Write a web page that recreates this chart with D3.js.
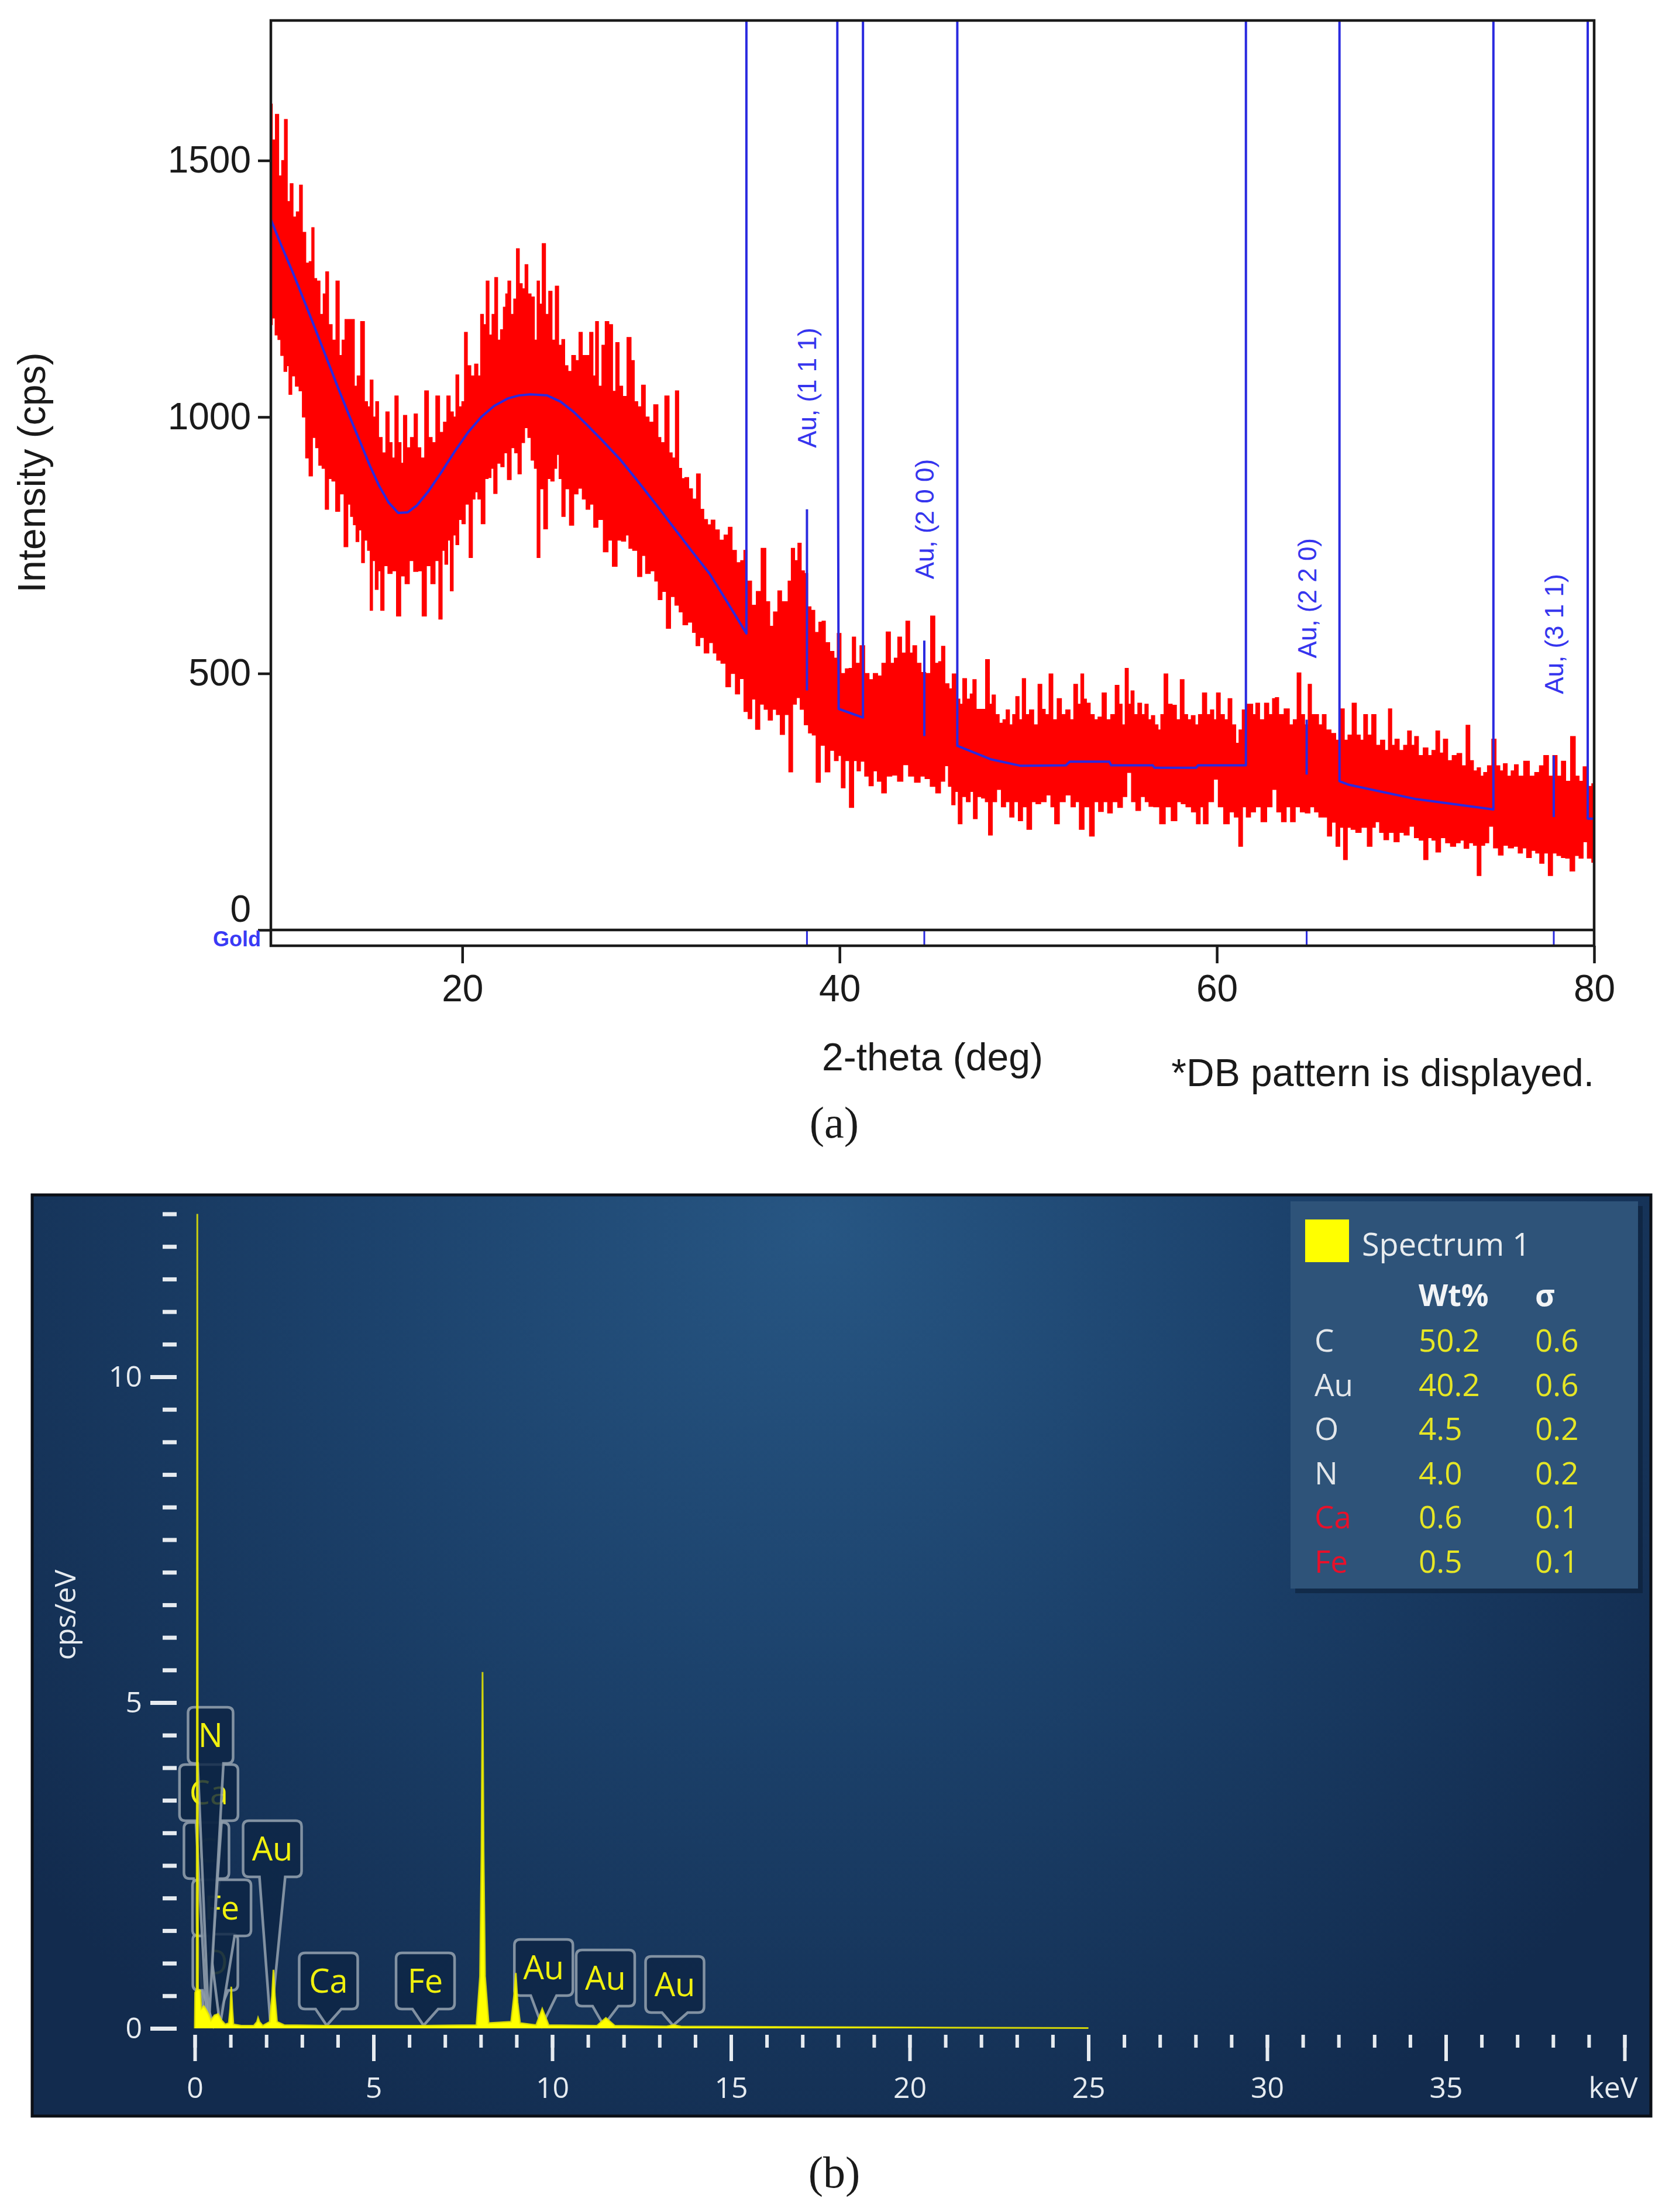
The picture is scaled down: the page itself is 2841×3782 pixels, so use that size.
<!DOCTYPE html>
<html lang="en">
<head>
<meta charset="UTF-8">
<title>XRD and EDS of gold sample</title>
<style>
  * { margin:0; padding:0; box-sizing:border-box; }
  body { background:#fff; width:2841px; height:3782px; overflow:hidden; }
  svg { display:block; }
</style>
<script src="https://unpkg.com/d3@7.6.1/dist/d3.min.js"></script>
</head>
<body>
<div id="chart"></div>
<script>
// ---------- (a) XRD ----------
// upper and lower edge of the noisy red trace, [2-theta, cps]
const redUpper = [
  [9.85,1610],[10.0,1540],[10.18,1590],[10.35,1470],[10.5,1500],[10.64,1580],[10.8,1420],[10.95,1455],[11.1,1390],[11.3,1400],
  [11.44,1452],[11.6,1360],[11.8,1300],[11.96,1303],[12.08,1369],[12.2,1270],[12.36,1265],[12.55,1200],[12.7,1240],[12.82,1283],
  [13.0,1180],[13.2,1150],[13.4,1265],[13.55,1120],[13.7,1150],[13.86,1190],[14.0,1190],[14.2,1190],[14.35,1060],[14.5,1080],
  [14.72,1186],[14.9,1030],[15.05,1020],[15.18,1072],[15.35,1000],[15.47,1030],[15.65,960],[15.85,930],[16.04,1010],[16.2,950],
  [16.35,920],[16.5,1041],[16.7,950],[16.8,910],[16.96,1003],[17.15,940],[17.35,960],[17.54,1006],[17.7,940],[17.9,920],
  [18.11,1051],[18.3,960],[18.5,950],[18.69,1041],[18.9,970],[19.1,990],[19.26,1041],[19.45,1010],[19.6,1000],[19.72,1082],
  [19.9,1020],[20.05,1030],[20.18,1165],[20.35,1100],[20.55,1080],[20.75,1103],[20.9,1080],[21.04,1200],[21.2,1180],[21.33,1265],
  [21.5,1160],[21.65,1200],[21.79,1272],[21.95,1150],[22.1,1170],[22.25,1214],[22.35,1240],[22.48,1265],[22.65,1200],[22.8,1230],
  [22.94,1328],[23.1,1260],[23.25,1250],[23.4,1297],[23.55,1240],[23.74,1234],[23.9,1150],[24.03,1265],[24.15,1220],[24.32,1338],
  [24.5,1200],[24.66,1245],[24.85,1150],[25.01,1255],[25.2,1140],[25.35,1151],[25.5,1100],[25.7,1089],[25.9,1120],[26.1,1110],
  [26.27,1165],[26.45,1120],[26.65,1120],[26.85,1165],[27.0,1080],[27.13,1186],[27.3,1060],[27.5,1140],[27.65,1186],[27.88,1180],
  [28.05,1050],[28.22,1145],[28.4,1060],[28.6,1040],[28.86,1155],[29.03,1110],[29.2,1030],[29.4,1020],[29.6,1062],[29.8,1000],
  [30.0,990],[30.29,1024],[30.45,960],[30.6,950],[30.87,1041],[31.05,930],[31.2,920],[31.39,1051],[31.55,900],[31.7,880],
  [31.9,882],[32.1,860],[32.3,840],[32.53,889],[32.7,820],[32.9,800],[33.1,790],[33.28,799],[33.5,780],[33.75,760],
  [34.0,770],[34.2,785],[34.4,740],[34.66,716],[34.85,720],[35.0,740],[35.2,680],[35.47,633],[35.7,660],[35.98,744],
  [36.2,640],[36.39,592],[36.6,620],[36.85,661],[37.0,640],[37.19,640],[37.35,680],[37.53,744],[37.7,720],[37.88,754],
  [38.05,700],[38.22,695],[38.4,630],[38.57,623],[38.8,580],[39.0,600],[39.14,602],[39.35,560],[39.6,543],[39.8,530],
  [39.95,578],[40.2,500],[40.41,509],[40.6,510],[40.75,571],[40.95,520],[41.21,554],[41.45,500],[41.67,488],[41.9,500],
  [42.13,495],[42.35,520],[42.59,581],[42.8,520],[43.0,530],[43.17,571],[43.4,540],[43.63,602],[43.8,540],[43.97,554],
  [44.2,520],[44.43,502],[44.7,500],[44.95,612],[45.15,520],[45.35,523],[45.46,553],[45.7,480],[45.9,470],[46.04,499],
  [46.3,450],[46.45,440],[46.61,490],[46.85,450],[47.0,460],[47.13,488],[47.35,430],[47.6,430],[47.88,527],[48.0,440],
  [48.17,458],[48.35,420],[48.57,403],[48.75,410],[48.91,429],[49.1,400],[49.25,420],[49.43,455],[49.6,410],[49.77,490],
  [49.95,420],[50.18,429],[50.4,400],[50.64,479],[50.8,430],[51.0,420],[51.21,499],[51.4,410],[51.67,451],[51.85,420],
  [52.13,429],[52.3,410],[52.53,479],[52.7,440],[52.88,499],[53.0,450],[53.17,442],[53.4,420],[53.6,410],[53.8,415],
  [54.03,462],[54.25,410],[54.5,420],[54.72,477],[54.9,440],[55.05,400],[55.23,510],[55.38,440],[55.52,466],[55.7,420],
  [55.92,442],[56.1,420],[56.27,440],[56.45,410],[56.61,418],[56.8,400],[56.96,390],[57.1,420],[57.3,499],[57.5,440],
  [57.76,438],[57.95,410],[58.17,488],[58.35,420],[58.55,410],[58.74,418],[58.95,400],[59.1,420],[59.37,462],[59.55,420],
  [59.77,429],[59.9,410],[60.06,462],[60.3,420],[60.5,410],[60.69,451],[60.9,400],[61.1,364],[61.25,390],[61.44,429],
  [61.6,440],[61.8,440],[62.0,420],[62.13,442],[62.4,410],[62.65,442],[62.85,420],[63.05,451],[63.15,453],[63.4,420],
  [63.73,431],[63.95,400],[64.15,410],[64.36,501],[64.55,420],[64.75,400],[64.93,479],[65.1,420],[65.28,420],[65.5,400],
  [65.68,420],[65.9,390],[66.2,383],[66.4,370],[66.66,431],[66.85,370],[67.05,380],[67.29,442],[67.5,380],[67.7,370],
  [67.87,420],[68.1,380],[68.32,420],[68.55,360],[68.8,370],[69.0,350],[69.19,431],[69.35,360],[69.53,372],[69.8,350],
  [70.0,360],[70.22,388],[70.4,360],[70.57,377],[70.8,340],[71.08,355],[71.3,340],[71.5,350],[71.72,388],[71.9,345],
  [72.12,372],[72.35,330],[72.6,340],[72.86,344],[73.1,320],[73.32,399],[73.5,330],[73.7,310],[73.9,316],[74.05,300],
  [74.24,307],[74.45,320],[74.7,372],[74.9,320],[75.1,310],[75.28,324],[75.5,300],[75.7,310],[75.85,322],[76.1,300],
  [76.43,329],[76.7,300],[77.0,307],[77.2,320],[77.46,340],[77.7,300],[77.92,340],[78.15,300],[78.38,329],[78.6,290],
  [78.9,377],[79.1,300],[79.3,290],[79.53,318],[79.75,280],[80.0,285]
];
const redLower = [
  [9.85,1180],[10.0,1193],[10.15,1160],[10.3,1151],[10.45,1120],[10.64,1089],[10.75,1100],[10.87,1044],[11.05,1080],[11.25,1060],
  [11.44,1051],[11.6,1000],[11.79,920],[11.96,885],[12.15,960],[12.3,940],[12.48,906],[12.65,900],[12.82,820],[13.0,880],
  [13.17,875],[13.4,816],[13.6,850],[13.86,747],[14.0,830],[14.15,806],[14.3,790],[14.43,757],[14.6,780],[14.72,716],
  [14.9,760],[15.05,740],[15.18,623],[15.3,720],[15.47,664],[15.6,700],[15.75,623],[15.95,710],[16.16,695],[16.4,700],
  [16.62,612],[16.85,690],[17.08,675],[17.3,720],[17.54,699],[17.75,700],[17.99,612],[18.2,710],[18.46,675],[18.65,720],
  [18.86,606],[19.0,740],[19.15,713],[19.3,760],[19.43,661],[19.6,770],[19.72,751],[19.9,800],[20.06,792],[20.25,830],
  [20.47,726],[20.6,840],[20.75,854],[20.9,840],[21.1,792],[21.3,880],[21.44,882],[21.6,900],[21.73,851],[21.95,910],
  [22.13,903],[22.3,930],[22.48,878],[22.7,940],[22.85,930],[23.05,889],[23.2,950],[23.4,979],[23.55,960],[23.74,916],
  [23.9,900],[24.03,726],[24.2,860],[24.43,782],[24.6,880],[24.78,875],[24.95,900],[25.06,927],[25.2,880],[25.35,806],
  [25.55,860],[25.81,789],[26.0,850],[26.27,861],[26.45,840],[26.67,820],[26.85,830],[27.08,785],[27.3,800],[27.65,737],
  [27.8,760],[28.11,709],[28.3,760],[28.57,758],[28.75,770],[28.91,744],[29.15,740],[29.43,689],[29.6,730],[29.83,695],
  [30.1,700],[30.3,680],[30.47,644],[30.7,660],[30.93,588],[31.15,650],[31.39,633],[31.6,620],[31.79,595],[32.1,600],
  [32.3,580],[32.48,554],[32.7,570],[32.94,540],[33.2,560],[33.4,540],[33.57,526],[33.85,520],[34.09,474],[34.35,500],
  [34.6,460],[34.8,490],[35.06,426],[35.24,412],[35.45,450],[35.64,391],[35.9,440],[36.1,430],[36.33,409],[36.55,430],
  [36.75,420],[36.96,381],[37.2,420],[37.42,308],[37.6,440],[37.82,453],[38.0,430],[38.25,400],[38.45,384],[38.65,380],
  [38.86,288],[39.1,360],[39.37,308],[39.6,350],[39.85,330],[40.0,340],[40.18,277],[40.4,330],[40.64,239],[40.85,330],
  [41.0,310],[41.21,329],[41.45,300],[41.67,281],[41.9,310],[42.1,290],[42.36,267],[42.6,300],[42.94,302],[43.2,290],
  [43.51,322],[43.8,300],[44.14,288],[44.4,300],[44.66,295],[44.95,280],[45.24,267],[45.46,290],[45.69,320],[45.85,280],
  [46.04,244],[46.2,270],[46.38,207],[46.6,260],[46.84,250],[47.0,270],[47.19,217],[47.4,260],[47.65,257],[47.8,250],
  [47.99,185],[48.2,250],[48.45,274],[48.7,240],[48.9,250],[49.14,220],[49.35,250],[49.6,213],[49.8,240],[50.06,196],
  [50.3,250],[50.52,246],[50.8,250],[51.1,263],[51.3,240],[51.5,207],[51.8,250],[52.13,263],[52.4,240],[52.6,250],
  [52.82,196],[53.1,240],[53.4,183],[53.6,250],[53.86,231],[54.1,250],[54.32,228],[54.6,250],[54.89,239],[55.1,260],
  [55.35,307],[55.6,250],[55.81,233],[56.1,260],[56.3,250],[56.5,241],[56.8,240],[57.13,207],[57.4,240],[57.76,213],
  [58.0,250],[58.22,246],[58.5,240],[58.8,230],[59.03,207],[59.2,240],[59.37,207],[59.7,250],[59.95,294],[60.2,240],
  [60.52,207],[60.8,230],[61.05,220],[61.27,163],[61.45,240],[61.67,220],[61.9,230],[62.2,240],[62.48,211],[62.8,240],
  [63.05,274],[63.3,230],[63.55,211],[63.8,240],[64.01,211],[64.3,240],[64.55,230],[64.82,228],[65.05,240],[65.3,230],
  [65.51,220],[65.75,220],[65.97,183],[66.2,210],[66.43,163],[66.6,200],[66.83,137],[67.0,200],[67.23,196],[67.5,190],
  [67.8,200],[68.15,163],[68.3,200],[68.5,211],[68.75,190],[68.96,176],[69.25,190],[69.53,172],[69.8,190],[70.05,185],
  [70.34,202],[70.6,180],[70.85,175],[71.08,137],[71.3,180],[71.5,175],[71.72,152],[72.0,180],[72.25,170],[72.52,163],
  [72.8,170],[73.0,175],[73.21,159],[73.5,170],[73.7,165],[73.9,106],[74.1,165],[74.3,170],[74.53,202],[74.8,160],
  [75.05,146],[75.3,165],[75.6,160],[75.85,163],[76.1,150],[76.3,160],[76.54,141],[76.8,155],[77.0,150],[77.23,130],
  [77.45,150],[77.69,106],[77.9,150],[78.15,145],[78.38,141],[78.6,140],[78.84,115],[79.1,145],[79.3,140],[79.53,172],
  [79.75,140],[80.0,132]
];
// fitted background (blue); 1800 = runs off the top of the plot
const bgX = [9.85,10.4,11.0,11.6,12.2,12.8,13.4,14.0,14.6,15.1,15.6,16.1,16.6,17.1,17.6,18.2,18.9,19.6,20.3,21.0,
             21.7,22.4,23.0,23.6,24.5,25.2,25.9,26.6,27.4,28.35,29.3,30.3,31.3,32.2,33.1,34.0,35.06,35.06,
             39.88,39.88,39.95,41.24,41.24,46.24,46.24,47.99,49.6,52.0,52.2,54.3,54.4,56.6,
             56.7,58.9,59.0,61.54,61.54,66.5,66.5,67.0,70.57,74.66,74.66,79.66,79.66,80.0];
const bgY = [1385,1335,1283,1228,1172,1115,1058,1003,950,905,865,833,813,814,828,855,893,933,970,1000,
             1022,1036,1042,1044,1042,1030,1010,985,955,918,875,828,780,737,695,642,578,1800,
             1800,1434,431,414,1800,1800,359,333,320,321,328,328,321,321,
             316,316,321,321,1800,1800,290,283,255,235,1800,1800,217,217];
// Au reference pattern (DB sticks)
const stickX = [38.27, 44.49, 64.76, 77.86];
const stickBase = [467, 378, 303, 220];
const stickTop = [820, 564, 410, 340];
const stickHkl = ["(1 1 1)", "(2 0 0)", "(2 2 0)", "(3 1 1)"];
const xrdYTicks = [0, 500, 1000, 1500];
const xrdXTicks = [20, 40, 60, 80];

// ---------- (b) EDS ----------
const spectrum = [
  [0,0],[0.01,0.55],[0.05,0.6],[0.07,12.5],[0.09,0.6],[0.15,0.58],[0.18,0.3],[0.25,0.34],[0.3,0.3],[0.38,0.22],
  [0.45,0.12],[0.55,0.2],[0.65,0.22],[0.75,0.12],[0.85,0.06],[0.95,0.08],[0.99,0.3],[1.02,0.64],[1.05,0.3],[1.08,0.06],
  [1.3,0.04],[1.65,0.04],[1.74,0.1],[1.77,0.16],[1.81,0.1],[1.9,0.04],[2.1,0.1],[2.16,0.5],[2.2,0.9],[2.24,0.5],
  [2.3,0.1],[2.5,0.05],[3.69,0.04],[6.4,0.04],[7.88,0.05],[7.98,0.8],[8.02,2.7],[8.05,5.47],[8.08,2.7],[8.12,0.8],
  [8.22,0.08],[8.85,0.1],[8.93,0.5],[8.98,0.85],[9.03,0.4],[9.1,0.08],[9.55,0.05],[9.72,0.3],[9.9,0.05],[11.25,0.04],
  [11.5,0.16],[11.75,0.04],[13.2,0.03],[13.4,0.05],[13.6,0.03],[17,0.02],[21,0.012],[25,0.005]
];
const calloutEl = ["C", "O", "Fe", "Ca", "N", "Au", "Ca", "Fe", "Au", "Au", "Au"];
const calloutE = [0.277, 0.525, 0.705, 0.341, 0.392, 2.12, 3.69, 6.40, 9.71, 11.44, 13.38];
const legendEl = ["C", "Au", "O", "N", "Ca", "Fe"];
const legendWt = ["50.2", "40.2", "4.5", "4.0", "0.6", "0.5"];
const legendSigma = ["0.6", "0.6", "0.2", "0.2", "0.1", "0.1"];
const edsYMajor = [0, 5, 10];
const edsXMajor = [0, 5, 10, 15, 20, 25, 30, 35, 40];

// layout only: box bottom height above the baseline (px), text dimming
const calloutLift = [256, 65, 158, 355, 453, 259, 33, 33, 56, 38, 27];
const calloutDim = [0.45, 0.5, 1, 1, 1, 1, 1, 1, 1, 1, 1];
const legendRed = new Set(["Ca", "Fe"]);

const W = 2841, H = 3782;
const svg = d3.select("#chart").append("svg").attr("width", W).attr("height", H);
const defs = svg.append("defs");
const ink = "#1a1a1a", blue = "#2a2ae0", sans = "'Liberation Sans', Arial, sans-serif";

// ===== panel (a) =====
const xA = d3.scaleLinear([9.85, 80], [463, 2725]);
const yA = d3.scaleLinear([0, 1773], [1590, 35]);

defs.append("clipPath").attr("id", "clipA").append("rect")
  .attr("x", 463).attr("y", 35).attr("width", 2725 - 463).attr("height", 1590 - 35);

const gA = svg.append("g");
const plot = gA.append("g").attr("clip-path", "url(#clipA)");

const bandLine = d3.line().x(d => xA(d[0])).y(d => yA(d[1])).curve(d3.curveStep);
plot.append("path")
  .attr("d", bandLine(redUpper.concat(redLower.slice().reverse())) + "Z")
  .attr("fill", "#ff0000").attr("stroke", "#ff0000").attr("stroke-width", 1.5);

plot.append("path")
  .attr("d", d3.line().x(d => xA(d[0])).y(d => yA(d[1]))(d3.zip(bgX, bgY)))
  .attr("fill", "none").attr("stroke", blue).attr("stroke-width", 4).attr("stroke-linejoin", "round");

plot.selectAll("line.stick").data(stickX).join("line")
  .attr("x1", d => xA(d)).attr("x2", d => xA(d))
  .attr("y1", (d, i) => yA(stickBase[i])).attr("y2", (d, i) => yA(stickTop[i]))
  .attr("stroke", blue).attr("stroke-width", 4);

gA.selectAll("text.hkl").data(stickX).join("text")
  .attr("transform", (d, i) => `translate(${xA(d) + 16},${yA(stickTop[i]) - 105}) rotate(-90)`)
  .attr("font-family", sans).attr("font-size", 44).attr("fill", "#3535ee")
  .text((d, i) => "Au, " + stickHkl[i]);

// DB strip ticks
gA.selectAll("line.db").data(stickX).join("line")
  .attr("x1", d => xA(d)).attr("x2", d => xA(d)).attr("y1", 1592).attr("y2", 1615)
  .attr("stroke", blue).attr("stroke-width", 3);

// frame
gA.append("path")
  .attr("d", "M463,35H2725V1617H463Z M463,1590H2725")
  .attr("fill", "none").attr("stroke", ink).attr("stroke-width", 4.5);

const yAxisA = gA.append("g").attr("transform", "translate(463,0)")
  .call(d3.axisLeft(yA).tickValues(xrdYTicks).tickFormat(d3.format("d")).tickSize(22).tickPadding(12))
  .call(g => g.select(".domain").remove())
  .attr("font-family", sans).attr("font-size", 64).attr("color", ink);
yAxisA.selectAll(".tick line").attr("stroke-width", 4.5);
yAxisA.selectAll(".tick").filter(d => d === 0).select("text").attr("y", -35);

const xAxisA = gA.append("g").attr("transform", "translate(0,1617)")
  .call(d3.axisBottom(xA).tickValues(xrdXTicks).tickFormat(d3.format("d")).tickSize(30).tickPadding(20))
  .call(g => g.select(".domain").remove())
  .attr("font-family", sans).attr("font-size", 64).attr("color", ink);
xAxisA.selectAll(".tick line").attr("stroke-width", 4.5);

gA.append("text").attr("transform", "translate(77,808) rotate(-90)")
  .attr("text-anchor", "middle").attr("font-family", sans).attr("font-size", 66).attr("fill", ink)
  .text("Intensity (cps)");
gA.append("text").attr("x", 1594).attr("y", 1830).attr("text-anchor", "middle")
  .attr("font-family", sans).attr("font-size", 66).attr("fill", ink).text("2-theta (deg)");
gA.append("text").attr("x", 2725).attr("y", 1857).attr("text-anchor", "end")
  .attr("font-family", sans).attr("font-size", 66).attr("fill", ink).text("*DB pattern is displayed.");
gA.append("text").attr("x", 446).attr("y", 1618).attr("text-anchor", "end")
  .attr("font-family", sans).attr("font-size", 36).attr("font-weight", "bold").attr("fill", "#3a3af5").text("Gold");
svg.append("text").attr("x", 1426).attr("y", 1945).attr("text-anchor", "middle")
  .attr("font-family", "'Liberation Serif', serif").attr("font-size", 76).attr("fill", ink).text("(a)");
svg.append("text").attr("x", 1426).attr("y", 3740).attr("text-anchor", "middle")
  .attr("font-family", "'Liberation Serif', serif").attr("font-size", 76).attr("fill", ink).text("(b)");

// ===== panel (b) =====
const ui = "'Open Sans', 'Noto Sans', sans-serif";
const xB = d3.scaleLinear([0, 40], [333, 2777]);
const yB = d3.scaleLinear([0, 12.5], [3468, 2075.5]);

const grad = defs.append("radialGradient").attr("id", "edsBg")
  .attr("gradientUnits", "userSpaceOnUse").attr("cx", 1400).attr("cy", 2100).attr("r", 1750);
grad.append("stop").attr("offset", 0).attr("stop-color", "#275683");
grad.append("stop").attr("offset", 0.45).attr("stop-color", "#1c426c");
grad.append("stop").attr("offset", 1).attr("stop-color", "#122b4e");

const gB = svg.append("g");
gB.append("rect").attr("x", 55).attr("y", 2043).attr("width", 2767).attr("height", 1575)
  .attr("fill", "url(#edsBg)").attr("stroke", "#0b0f16").attr("stroke-width", 5);

// axes
const tickColor = "#e6ebf0";
const yMinor = gB.append("g").attr("transform", "translate(302,0)")
  .call(d3.axisLeft(yB).tickValues(d3.range(0, 12.75, 0.5)).tickSize(24).tickFormat(""))
  .call(g => g.select(".domain").remove()).attr("color", tickColor);
yMinor.selectAll(".tick line").attr("stroke-width", 7);
const yMajor = gB.append("g").attr("transform", "translate(302,0)")
  .call(d3.axisLeft(yB).tickValues(edsYMajor).tickSize(45).tickPadding(14))
  .call(g => g.select(".domain").remove())
  .attr("color", tickColor).attr("font-family", ui).attr("font-size", 50);
yMajor.selectAll(".tick line").attr("stroke-width", 7);

const xMinor = gB.append("g").attr("transform", "translate(0,3479)")
  .call(d3.axisBottom(xB).tickValues(d3.range(0, 41, 1)).tickSize(22).tickFormat(""))
  .call(g => g.select(".domain").remove()).attr("color", tickColor);
xMinor.selectAll(".tick line").attr("stroke-width", 6);
const xMajor = gB.append("g").attr("transform", "translate(0,3479)")
  .call(d3.axisBottom(xB).tickValues(edsXMajor).tickSize(45).tickPadding(27)
    .tickFormat(d => d === 40 ? "keV" : d))
  .call(g => g.select(".domain").remove())
  .attr("color", tickColor).attr("font-family", ui).attr("font-size", 50);
xMajor.selectAll(".tick line").attr("stroke-width", 6);
xMajor.selectAll(".tick").filter(d => d === 40).select("text").attr("dx", -20);

gB.append("text").attr("transform", "translate(129,2761) rotate(-90)")
  .attr("text-anchor", "middle").attr("font-family", ui).attr("font-size", 50).attr("fill", tickColor)
  .text("cps/eV");

// element callouts
function callout(cx, bottom, w, h, tipX, tipY) {
  const x0 = cx - w / 2, x1 = cx + w / 2, y0 = bottom - h, y1 = bottom, r = 10, n = 22;
  return `M${x0 + r},${y0}H${x1 - r}Q${x1},${y0} ${x1},${y0 + r}V${y1 - r}Q${x1},${y1} ${x1 - r},${y1}` +
    `H${cx + n}L${tipX},${tipY}L${cx - n},${y1}H${x0 + r}Q${x0},${y1} ${x0},${y1 - r}V${y0 + r}Q${x0},${y0} ${x0 + r},${y0}Z`;
}
const base = yB(0);
calloutEl.forEach((el, i) => {
  const px = xB(calloutE[i]);
  const cx = px + 3;
  const w = 54 + 23 * el.length, h = 96;
  const bottom = base - calloutLift[i];
  const g = gB.append("g");
  g.append("path").attr("d", callout(cx, bottom, w, h, px, base - 5))
    .attr("fill", "#0e2646").attr("fill-opacity", 0.82)
    .attr("stroke", "#8e9cab").attr("stroke-width", 4.5).attr("stroke-opacity", 0.9);
  g.append("text").attr("x", cx).attr("y", bottom - h / 2 + 20).attr("text-anchor", "middle")
    .attr("font-family", ui).attr("font-size", 56).attr("fill", "#f0f00e").attr("fill-opacity", calloutDim[i])
    .text(el);
});

// spectrum
gB.append("path").datum(spectrum)
  .attr("d", d3.area().x(d => xB(d[0])).y0(base).y1(d => yB(d[1])))
  .attr("fill", "#ffff00");
gB.append("path").datum(spectrum)
  .attr("d", d3.line().x(d => xB(d[0])).y(d => yB(d[1])))
  .attr("fill", "none").attr("stroke", "#e8e800").attr("stroke-width", 3).attr("stroke-opacity", 0.85);

// legend table
const lg = gB.append("g");
lg.append("rect").attr("x", 2214).attr("y", 2062).attr("width", 594).attr("height", 662)
  .attr("fill", "#0a1a30").attr("opacity", 0.5);
lg.append("rect").attr("x", 2206).attr("y", 2054).attr("width", 594).attr("height", 662)
  .attr("fill", "#2e5379");
lg.append("rect").attr("x", 2231).attr("y", 2085).attr("width", 75).attr("height", 73).attr("fill", "#ffff00");
lg.append("text").attr("x", 2328).attr("y", 2147).attr("font-family", ui).attr("font-size", 54)
  .attr("fill", "#e8ecef").text("Spectrum 1");
lg.append("text").attr("x", 2425).attr("y", 2233).attr("font-family", ui).attr("font-size", 52)
  .attr("font-weight", "bold").attr("fill", "#f2f4f6").text("Wt%");
lg.append("text").attr("x", 2624).attr("y", 2233).attr("font-family", ui).attr("font-size", 52)
  .attr("font-weight", "bold").attr("fill", "#f2f4f6").text("σ");
const rowY = d3.scaleLinear([0, 5], [2311, 2689]);
legendEl.forEach((el, i) => {
  lg.append("text").attr("x", 2247).attr("y", rowY(i)).attr("font-family", ui).attr("font-size", 53)
    .attr("fill", legendRed.has(el) ? "#e8102a" : "#e2e6ea").text(el);
  lg.append("text").attr("x", 2425).attr("y", rowY(i)).attr("font-family", ui).attr("font-size", 53)
    .attr("fill", "#e6e625").text(legendWt[i]);
  lg.append("text").attr("x", 2624).attr("y", rowY(i)).attr("font-family", ui).attr("font-size", 53)
    .attr("fill", "#e6e625").text(legendSigma[i]);
});
</script>
</body>
</html>
